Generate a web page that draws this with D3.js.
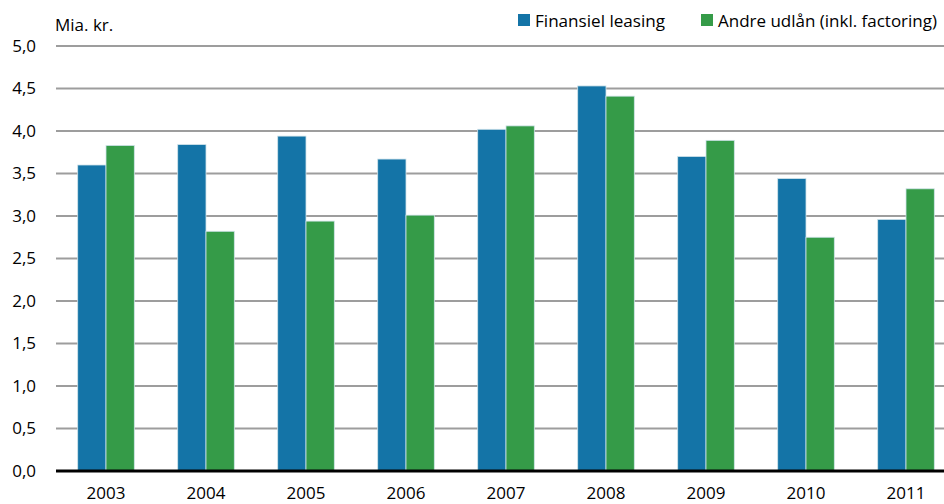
<!DOCTYPE html>
<html><head><meta charset="utf-8">
<script src="https://cdn.jsdelivr.net/npm/d3@7"></script>
<style>body{margin:0;background:#fff}svg{display:block}text{font-family:"Open Sans",sans-serif;fill:#000}</style>
</head><body><svg id="c" width="944" height="504"></svg>
<script>
const years = ["2003","2004","2005","2006","2007","2008","2009","2010","2011"];
const leasing = [3.60,3.84,3.94,3.67,4.02,4.53,3.70,3.44,2.96];
const andre = [3.83,2.82,2.94,3.01,4.06,4.41,3.89,2.75,3.32];
const seriesNames = ["Finansiel leasing","Andre udlån (inkl. factoring)"];
const colors = ["#1474a7","#359b48"];
const yTicks = [0,0.5,1,1.5,2,2.5,3,3.5,4,4.5,5];

const svg = d3.select("#c");
const x = d3.scaleBand().domain(years).range([56,956]).paddingInner(0.434).paddingOuter(0.217);
const xs = d3.scaleBand().domain([0,1]).range([0,x.bandwidth()]);
const y = d3.scaleLinear().domain([0,5]).range([471,46]);
const fmt = d => d.toFixed(1).replace(".",",");

const g = svg.append("g");
g.selectAll("line.grid").data(yTicks.filter(d=>d>0)).join("line")
  .attr("x1",56).attr("x2",944).attr("y1",d=>y(d)).attr("y2",d=>y(d))
  .attr("stroke","#9d9d9d").attr("stroke-width",2);
g.selectAll("text.yl").data(yTicks).join("text")
  .attr("x",36).attr("y",d=>y(d)).attr("dy","0.35em").attr("text-anchor","end")
  .attr("font-size",17).text(fmt);

const data = years.map((yr,i)=>({yr, v:[leasing[i],andre[i]]}));
const grp = svg.append("g").selectAll("g").data(data).join("g")
  .attr("transform",d=>`translate(${x(d.yr)},0)`);
grp.selectAll("rect").data(d=>d.v.map((v,k)=>({v,k}))).join("rect")
  .attr("x",d=>xs(d.k)).attr("width",xs.bandwidth())
  .attr("y",d=>y(d.v)).attr("height",d=>y(0)-y(d.v))
  .attr("fill",d=>colors[d.k]).attr("stroke","#cfe3ea").attr("stroke-width",0.8);

svg.append("line").attr("x1",56).attr("x2",944).attr("y1",y(0)).attr("y2",y(0))
  .attr("stroke","#000").attr("stroke-width",3);

svg.selectAll("text.xl").data(years).join("text")
  .attr("x",d=>x(d)+x.bandwidth()/2).attr("y",499).attr("text-anchor","middle")
  .attr("font-size",17).text(d=>d);

svg.append("text").attr("x",55).attr("y",31).attr("font-size",17).text("Mia. kr.");

const legX = [518,701];
const legW = [130,219];
const lg = svg.append("g");
seriesNames.forEach((n,i)=>{
  lg.append("rect").attr("x",legX[i]).attr("y",14).attr("width",12).attr("height",12).attr("fill",colors[i]);
  lg.append("text").attr("x",legX[i]+17).attr("y",27).attr("font-size",16)
    .attr("textLength",legW[i]).attr("lengthAdjust","spacingAndGlyphs").text(n);
});
</script></body></html>
